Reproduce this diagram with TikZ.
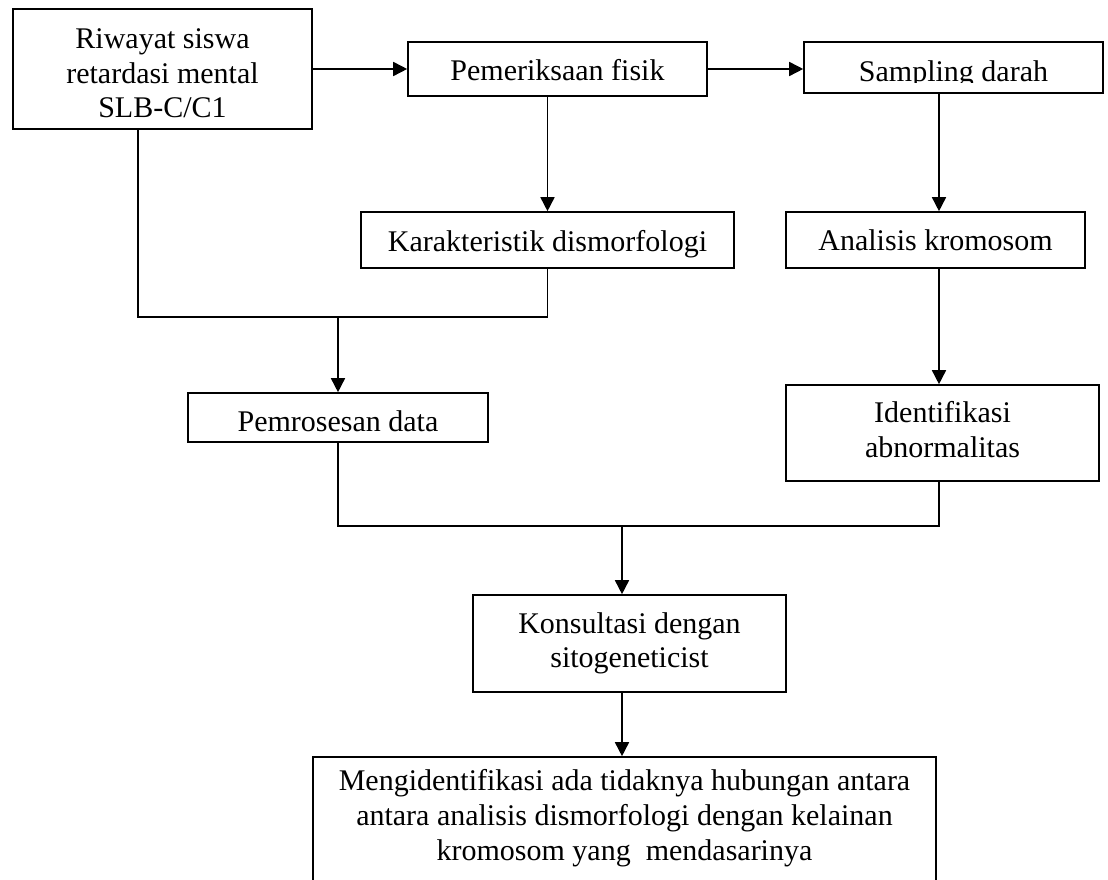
\documentclass[tikz,border=0pt]{standalone}
\usepackage{fontspec}
\setmainfont{Liberation Serif}
\usetikzlibrary{arrows.meta,calc}
\newdimen\px \px=0.75pt
% lowered tabular: keeps its natural size for centring, text drawn #1 lower
\newcommand{\tbx}[2]{\raisebox{-#1}[\height][\depth]{\begin{tabular}{@{}c@{}}#2\end{tabular}}}
\tikzset{
  txt/.style={inner sep=0pt, font=\fontsize{22.5pt}{25.9pt}\selectfont},
  box/.style={txt, draw, line width=1.2pt},
  link/.style={line width=1.2pt},
  arr/.style={link, -{Triangle[length=10.5pt,width=10.5pt]}},
}
\begin{document}
\begin{tikzpicture}[x=0.75pt,y=-0.75pt]
\useasboundingbox (0,0) rectangle (1108,880);
\clip (0,0) rectangle (1108,880);
% boxes
\node[box, minimum width=299\px, minimum height=120\px] (riw) at (162.5,69) {\tbx{7.1\px}{Riwayat siswa\\retardasi mental\\SLB-C/C1}};
\node[box, minimum width=299\px, minimum height=54\px] (pem) at (557.5,69) {\tbx{4.1\px}{Pemeriksaan fisik}};
\node[box, minimum width=299\px, minimum height=51\px] (samp) at (953.5,67.5) {};
\begin{scope}
  \clip (samp.north west) rectangle ($(samp.south east)+(0,-11)$);
  \node[txt, anchor=base] (samptext) at ($(samp.south)+(0,-12)$) {Sampling darah};
\end{scope}
\node[box, minimum width=373\px, minimum height=56\px] (kar) at (547.5,240) {\tbx{4.1\px}{Karakteristik dismorfologi}};
\node[box, minimum width=299\px, minimum height=56\px] (ana) at (935.5,240) {\tbx{3.8\px}{Analisis kromosom}};
\node[box, minimum width=300\px, minimum height=49\px] (pro) at (338,417.5) {\tbx{6.6\px}{Pemrosesan data}};
\node[box, minimum width=313\px, minimum height=96\px] (ide) at (942.5,433) {\tbx{0\px}{Identifikasi\\abnormalitas}};
\node[box, minimum width=313\px, minimum height=97\px] (kon) at (629.5,643.5) {\tbx{0\px}{Konsultasi dengan\\sitogeneticist}};
\node[box, minimum width=623\px, minimum height=140\px] (fin) at (624.5,827) {\tbx{-8.4\px}{Mengidentifikasi ada tidaknya hubungan antara\\antara analisis dismorfologi dengan kelainan\\kromosom yang\ \ mendasarinya}};
% helper coordinates
\coordinate (colA) at (138,0);
\coordinate (colR) at (939,0);
\coordinate (j1) at (338,317);
\coordinate (j2) at (622,526);
% connectors
\draw[arr] (riw.east) -- (pem.west);
\draw[arr] (pem.east) -- (pem.east -| samp.west);
\draw[arr] (pem.south -| kar.north) -- (kar.north);
\draw[arr] (samp.south -| colR) -- (ana.north -| colR);
\draw[arr] (ana.south -| colR) -- (ide.north -| colR);
\draw[link] (riw.south -| colA) |- (j1) -| (kar.south);
\draw[arr] (j1) -- (pro.north -| j1);
\draw[link] (pro.south -| j1) |- (j2) -| (ide.south -| colR);
\draw[arr] (j2) -- (kon.north -| j2);
\draw[arr] (kon.south -| j2) -- (fin.north -| j2);
\end{tikzpicture}
\end{document}
